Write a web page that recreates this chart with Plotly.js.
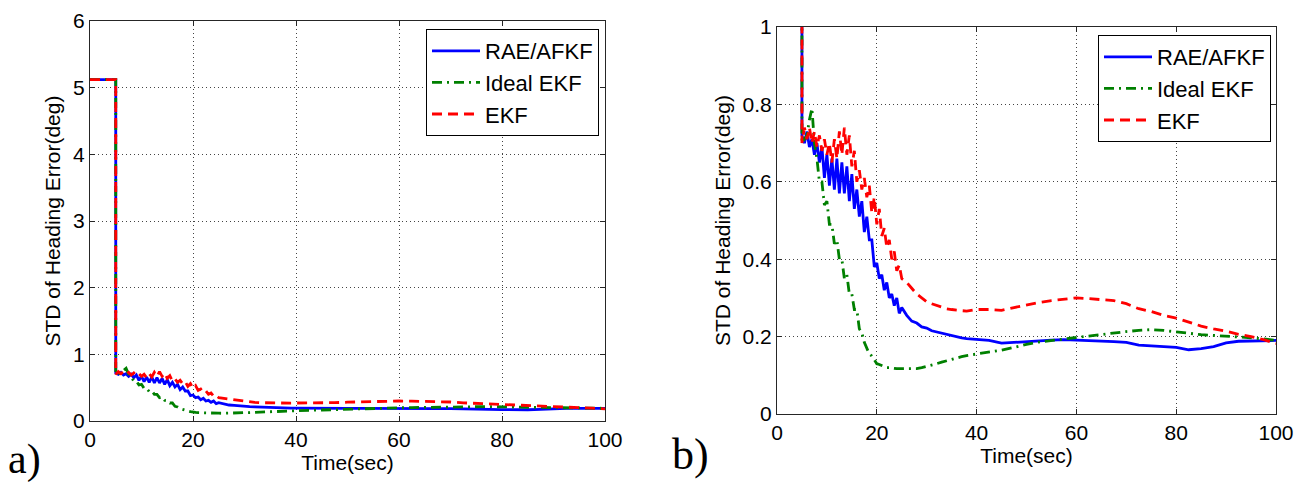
<!DOCTYPE html>
<html>
<head>
<meta charset="utf-8">
<script src="https://cdn.plot.ly/plotly-3.0.1.min.js"></script>
<style>
  html, body { margin: 0; padding: 0; background: #fff; }
  #chart { width: 1306px; height: 484px; }
</style>
</head>
<body>
<div id="chart"></div>
<script>
// ---- Data ----
var seriesNames = ["RAE/AFKF", "Ideal EKF", "EKF"];

var timeSec = [0, 5,
  5.0, 5.5, 6.0, 6.5, 7.0, 7.5, 8.0, 8.5, 9.0, 9.5,
  10.0, 10.5, 11.0, 11.5, 12.0, 12.5, 13.0, 13.5, 14.0, 14.5,
  15.0, 15.5, 16.0, 16.5, 17.0, 17.5, 18.0, 18.5, 19.0, 19.5,
  20.0, 20.5, 21.0, 21.5, 22.0, 22.5, 23.0, 23.5, 24.0, 24.5, 25.0,
  26, 27, 28, 29, 30, 31, 32, 33, 34, 35, 36, 37, 38, 39, 40,
  42.5, 45, 47.5, 50, 52.5, 55, 57.5, 60, 62.5, 65, 67.5, 70,
  72.5, 75, 77.5, 80, 82.5, 85, 87.5, 90, 92.5, 95, 97.5, 100];

var raeAfkf = [5.12, 5.12,
  0.72, 0.70, 0.73, 0.69, 0.71, 0.67, 0.70, 0.65, 0.69, 0.61,
  0.67, 0.59, 0.66, 0.58, 0.66, 0.57, 0.65, 0.57, 0.64, 0.55,
  0.62, 0.53, 0.58, 0.51, 0.55, 0.47, 0.51, 0.45, 0.45, 0.38,
  0.39, 0.35, 0.36, 0.32, 0.34, 0.30, 0.31, 0.28, 0.30, 0.26, 0.275,
  0.255, 0.24, 0.235, 0.225, 0.222, 0.215, 0.212, 0.208, 0.205, 0.203, 0.200, 0.197, 0.195, 0.194, 0.193,
  0.190, 0.183, 0.185, 0.188, 0.190, 0.191, 0.192, 0.191, 0.190, 0.189, 0.187, 0.185,
  0.178, 0.176, 0.174, 0.172, 0.166, 0.169, 0.174, 0.184, 0.188, 0.189, 0.189, 0.190];

var idealEkf = [5.12, 5.12,
  0.70, 0.71, 0.72, 0.76, 0.79, 0.70, 0.66, 0.60, 0.60, 0.54,
  0.55, 0.49, 0.49, 0.44, 0.45, 0.40, 0.40, 0.35, 0.36, 0.31,
  0.31, 0.27, 0.27, 0.22, 0.21, 0.185, 0.17, 0.155, 0.15, 0.14,
  0.13, 0.128, 0.125, 0.123, 0.12, 0.12, 0.118, 0.118, 0.117, 0.117, 0.117,
  0.116, 0.116, 0.117, 0.120, 0.123, 0.127, 0.130, 0.134, 0.138, 0.142, 0.145, 0.148, 0.151, 0.153, 0.155,
  0.160, 0.165, 0.172, 0.180, 0.186, 0.190, 0.194, 0.198, 0.202, 0.206, 0.210, 0.213,
  0.216, 0.218, 0.216, 0.212, 0.208, 0.205, 0.203, 0.201, 0.200, 0.197, 0.194, 0.190];

var ekf = [5.12, 5.12,
  0.70, 0.74, 0.71, 0.74, 0.70, 0.73, 0.69, 0.72, 0.68, 0.71,
  0.67, 0.70, 0.65, 0.71, 0.66, 0.73, 0.67, 0.74, 0.67, 0.72,
  0.64, 0.68, 0.60, 0.63, 0.58, 0.61, 0.56, 0.59, 0.52, 0.56,
  0.49, 0.53, 0.46, 0.48, 0.43, 0.45, 0.40, 0.42, 0.37, 0.385, 0.35,
  0.34, 0.325, 0.31, 0.30, 0.29, 0.285, 0.28, 0.275, 0.272, 0.270, 0.268, 0.267, 0.266, 0.268, 0.270,
  0.270, 0.268, 0.275, 0.282, 0.288, 0.293, 0.297, 0.300, 0.298, 0.296, 0.293, 0.285,
  0.272, 0.265, 0.255, 0.248, 0.237, 0.227, 0.220, 0.214, 0.206, 0.200, 0.192, 0.182];

var xTickVals = [0, 20, 40, 60, 80, 100];
var leftYTicks = [0, 1, 2, 3, 4, 5, 6];
var rightYTicks = [0, 0.2, 0.4, 0.6, 0.8, 1];
var panelLabels = ["a)", "b)"];
var xTitleText = "Time(sec)";
var yTitleText = "STD of Heading Error(deg)";

// ---- Styles ----
var colors = ["#0000ff", "#008000", "#ff0000"];
var dashes = ["solid", "10px,5px,2px,5px", "10px,6px"];
var ys = [raeAfkf, idealEkf, ekf];

var traces = [];
[["x", "y", "legend"], ["x2", "y2", "legend2"]].forEach(function (p) {
  for (var i = 0; i < 3; i++) {
    traces.push({
      x: timeSec, y: ys[i], name: seriesNames[i], type: "scatter", mode: "lines",
      xaxis: p[0], yaxis: p[1], legend: p[2],
      line: { color: colors[i], width: 2.8, dash: dashes[i] }
    });
  }
});

var font = { family: "Liberation Sans, Arial, Helvetica, sans-serif", color: "#000" };
function axisBase() {
  return {
    showline: true, linecolor: "#262626", linewidth: 1, mirror: "ticks",
    ticks: "inside", ticklen: 5, tickcolor: "#262626",
    showgrid: true, gridcolor: "#444444", gridwidth: 1, griddash: "1px,3px",
    zeroline: false, fixedrange: true,
    tickfont: { family: font.family, size: 21, color: "#000" }
  };
}

var W = 1306, H = 484, mL = 90, mR = 30, mT = 21, mB = 63;
var pw = W - mL - mR, ph = H - mT - mB;
function px2x(p) { return (p - mL) / pw; }
function px2y(p) { return (H - mB - p) / ph; }

var titleFont = { family: font.family, size: 21, color: "#000" };
var xa1 = axisBase(); Object.assign(xa1, { domain: [0, px2x(605)], range: [0, 100], tickvals: xTickVals, anchor: "y",
  title: { text: xTitleText, font: titleFont, standoff: 4 } });
var ya1 = axisBase(); Object.assign(ya1, { domain: [0, 1], range: [0, 6], tickvals: leftYTicks, anchor: "x",
  title: { text: yTitleText, font: titleFont, standoff: 6 } });
var xa2 = axisBase(); Object.assign(xa2, { domain: [px2x(777), px2x(1276)], range: [0, 100], tickvals: xTickVals, anchor: "y2",
  title: { text: xTitleText, font: titleFont, standoff: 4 } });
var ya2 = axisBase(); Object.assign(ya2, { domain: [px2y(414), px2y(27)], range: [0, 1], tickvals: rightYTicks, anchor: "x2",
  title: { text: yTitleText, font: titleFont, standoff: 6 } });

var legendBase = {
  bgcolor: "#ffffff", bordercolor: "#000000", borderwidth: 1,
  font: { family: font.family, size: 22, color: "#000" },
  xanchor: "right", yanchor: "top", tracegroupgap: 0, itemwidth: 48
};
var legend1 = Object.assign({}, legendBase, { x: px2x(599), y: px2y(29) });
var legend2 = Object.assign({}, legendBase, { x: px2x(1271), y: px2y(35) });

var layout = {
  width: W, height: H,
  margin: { l: mL, r: mR, t: mT, b: mB },
  paper_bgcolor: "#ffffff", plot_bgcolor: "#ffffff",
  font: font,
  showlegend: true,
  xaxis: xa1, yaxis: ya1, xaxis2: xa2, yaxis2: ya2,
  legend: legend1, legend2: legend2,
  annotations: [
    { text: panelLabels[0], xref: "paper", yref: "paper", x: px2x(24), y: px2y(459),
      xanchor: "center", yanchor: "middle", showarrow: false,
      font: { family: "Liberation Serif, Times New Roman, serif", size: 42, color: "#000" } },
    { text: panelLabels[1], xref: "paper", yref: "paper", x: px2x(690), y: px2y(454),
      xanchor: "center", yanchor: "middle", showarrow: false,
      font: { family: "Liberation Serif, Times New Roman, serif", size: 44, color: "#000" } }
  ]
};

Plotly.newPlot("chart", traces, layout, { staticPlot: true, displayModeBar: false });
</script>
</body>
</html>
